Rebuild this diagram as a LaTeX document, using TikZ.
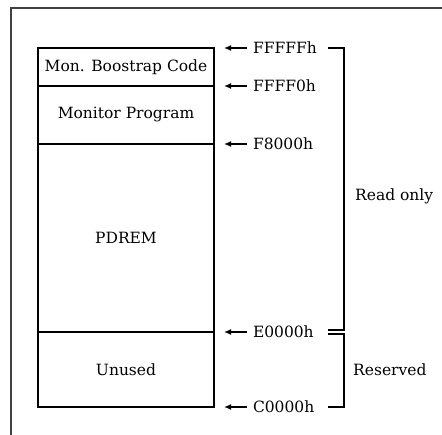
\documentclass[tikz,border=0pt]{standalone}
\usepackage{fontspec}
\setmainfont{DejaVu Serif}
\usetikzlibrary{positioning,arrows.meta,calc}
\tikzset{
  region/.style={draw, line width=1.4pt, minimum width=176pt, inner sep=0pt, outer sep=0pt},
  addr/.style={inner sep=3pt, outer sep=0pt},
  pointer/.style={-{Latex[length=7pt,width=6pt]}, line width=1.4pt, shorten >=10pt, shorten <=3pt},
  bracket/.style={line width=1.4pt},
}

\begin{document}
\begin{tikzpicture}[x=1pt, y=-1pt, font=\fontsize{15.5}{18}\selectfont]
\useasboundingbox (0,0) rectangle (442,435);
\draw[line width=2pt, black!75] (11,435) -- (11,8) -- (442,8);
% memory map
\node[region, minimum height=38pt] (boot) at (126,67) {Mon. Boostrap Code};
\node[region, minimum height=58pt, below=0pt of boot] (mon) {Monitor Program};
\node[region, minimum height=188pt, below=0pt of mon] (pdrem) {PDREM};
\node[region, minimum height=75pt, below=0pt of pdrem] (unused) {Unused};
% addresses
\node[addr, right=36pt of boot.north east] (fffff) {FFFFFh};
\node[addr, right=36pt of mon.north east] (ffff0) {FFFF0h};
\node[addr, right=36pt of pdrem.north east] (f8000) {F8000h};
\node[addr, right=36pt of unused.north east] (e0000) {E0000h};
\node[addr, right=36pt of unused.south east] (c0000) {C0000h};
\path[pointer]
(fffff.west) edge (boot.north east)
(ffff0.west) edge (mon.north east)
(f8000.west) edge (pdrem.north east)
(e0000.west) edge (unused.north east)
(c0000.west) edge (unused.south east);
% ranges
\coordinate (rx) at (344,0);
\draw[bracket] ([xshift=78pt]fffff.west) -| ([yshift=2pt]e0000.west -| rx) -- ++(-16,0);
\draw[bracket] ([xshift=78pt,yshift=-2pt]e0000.west) -| (c0000.west -| rx) -- ++(-16,0);
\node[anchor=west, inner sep=0pt] (readonly) at (355,196) {Read only};
\node[anchor=west, inner sep=0pt] (reserved) at (353,370) {Reserved};
\end{tikzpicture}
\end{document}
